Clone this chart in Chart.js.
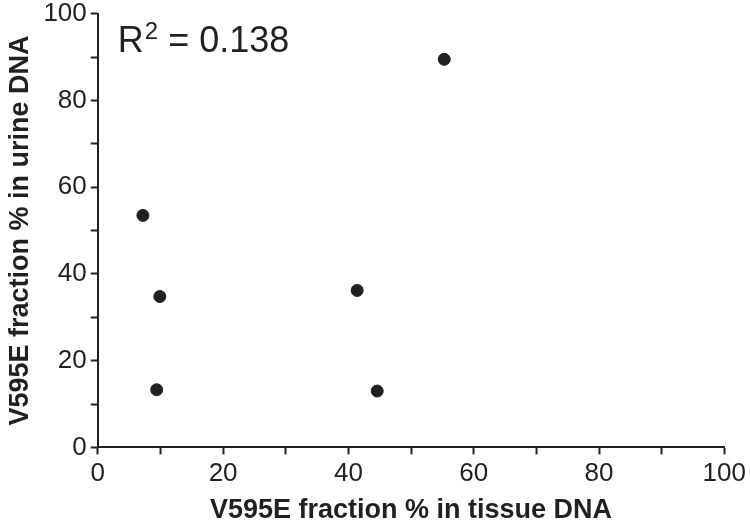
<!DOCTYPE html>
<html>
<head>
<meta charset="utf-8">
<script src="https://cdn.jsdelivr.net/npm/chart.js@4/dist/chart.umd.min.js"></script>
<style>
  html, body { margin: 0; padding: 0; background: #fff; }
  #wrap { width: 750px; height: 530px; }
</style>
</head>
<body>
<div id="wrap"><canvas id="scatter"></canvas></div>
<script>
// tissue vs urine V595E fraction (%)
const tissuePct = [55.3, 7.2, 9.9, 41.4, 9.4, 44.6];
const urinePct = [89.5, 53.5, 34.8, 36.2, 13.3, 13.0];
const rSquared = "0.138";
const xTitle = "V595E fraction % in tissue DNA";
const yTitle = "V595E fraction % in urine DNA";

const ink = "#231f20";
const font = "'Liberation Sans', Arial, sans-serif";

const points = tissuePct.map((x, i) => ({ x, y: urinePct[i] }));

// R² label, anchored to data space near the top-left corner
const rLabel = {
  id: "rLabel",
  afterDraw(chart) {
    const { ctx, scales } = chart;
    const px = scales.x.getPixelForValue(3.2);
    const py = scales.y.getPixelForValue(93.5);
    ctx.save();
    ctx.fillStyle = ink;
    ctx.textBaseline = "middle";
    ctx.textAlign = "left";
    ctx.font = `36px ${font}`;
    ctx.fillText("R", px, py);
    let w = ctx.measureText("R").width;
    ctx.font = `24px ${font}`;
    ctx.fillText("2", px + w + 1, py - 10);
    w += ctx.measureText("2").width + 1;
    ctx.font = `36px ${font}`;
    ctx.fillText(" = " + rSquared, px + w, py);
    ctx.restore();
  },
};

const axisCommon = {
  type: "linear",
  min: 0,
  max: 100,
  border: { display: true, color: ink, width: 2 },
  grid: {
    display: true,
    drawOnChartArea: false,
    drawTicks: true,
    tickLength: 7,
    tickWidth: 2,
    tickColor: ink,
  },
  ticks: {
    stepSize: 10,
    color: ink,
    font: { family: font, size: 26 },
    callback: (v) => (v % 20 === 0 ? String(v) : ""),
  },
};

new Chart(document.getElementById("scatter"), {
  type: "scatter",
  data: {
    datasets: [
      {
        data: points,
        backgroundColor: ink,
        borderColor: ink,
        pointRadius: 6,
        pointHoverRadius: 6,
      },
    ],
  },
  options: {
    responsive: true,
    maintainAspectRatio: false,
    animation: false,
    layout: { padding: { top: 0, right: -4, left: 4, bottom: 3 } },
    plugins: {
      legend: { display: false },
      tooltip: { enabled: false },
    },
    scales: {
      x: {
        ...axisCommon,
        ticks: { ...axisCommon.ticks, maxRotation: 0, padding: 4 },
        title: {
          display: true,
          text: xTitle,
          color: ink,
          font: { family: font, size: 27, weight: "bold" },
          padding: { top: 1, bottom: 0 },
        },
      },
      y: {
        ...axisCommon,
        ticks: {
          ...axisCommon.ticks,
          padding: 4,
          font: { family: font, size: 26, lineHeight: 0.75 },
        },
        title: {
          display: true,
          text: yTitle,
          color: ink,
          font: { family: font, size: 27, weight: "bold" },
          padding: { top: 0, bottom: 3 },
        },
      },
    },
  },
  plugins: [rLabel],
});
</script>
</body>
</html>
